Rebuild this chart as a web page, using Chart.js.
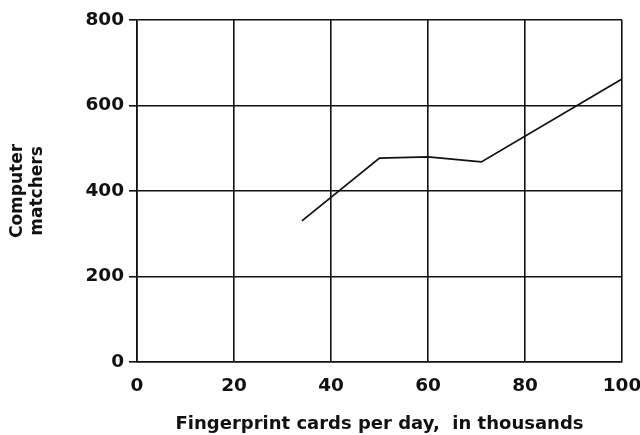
<!DOCTYPE html>
<html>
<head>
<meta charset="utf-8">
<script src="https://cdn.jsdelivr.net/npm/chart.js@4"></script>
<style>
  html, body { margin: 0; padding: 0; background: #fff; }
  #wrap { width: 640px; height: 435px; }
</style>
</head>
<body>
<div id="wrap"><canvas id="fpChart"></canvas></div>
<script>
// Computer matchers vs fingerprint card volume
const cardsPerDay = [34, 50, 60, 71, 100];
const matchers = [330, 477, 480, 468, 662];
const xTicks = [0, 20, 40, 60, 80, 100];
const yTicks = [0, 200, 400, 600, 800];

const ink = '#111';
const fontFam = "'DejaVu Sans', 'Liberation Sans', sans-serif";

document.addEventListener('DOMContentLoaded', () => {
  const ctx = document.getElementById('fpChart');
  new Chart(ctx.getContext('2d'), {
    type: 'line',
    data: {
      datasets: [{
        data: cardsPerDay.map((x, i) => ({ x: x, y: matchers[i] })),
        borderColor: ink,
        borderWidth: 1.8,
        pointRadius: 0,
        tension: 0,
        fill: false,
      }]
    },
    options: {
      responsive: true,
      maintainAspectRatio: false,
      animation: false,
      layout: { padding: { top: 20, right: 0, left: 0, bottom: 0 } },
      plugins: { legend: { display: false }, tooltip: { enabled: false } },
      scales: {
        x: {
          type: 'linear',
          min: 0, max: 100,
          afterBuildTicks: s => { s.ticks = xTicks.map(v => ({ value: v })); },
          afterFit: s => { s.height = 73; s.paddingRight = 18; },
          grid: { color: ink, lineWidth: 1.6, drawTicks: false },
          border: { color: ink, width: 1.6 },
          ticks: { color: ink, padding: 13, font: { family: fontFam, size: 18.5, weight: 'bold' } },
          title: {
            display: true,
            text: 'Fingerprint cards per day,  in thousands',
            color: ink,
            padding: { top: 10, bottom: 0 },
            font: { family: fontFam, size: 18, weight: 'bold' }
          }
        },
        y: {
          min: 0, max: 800,
          afterBuildTicks: s => { s.ticks = yTicks.map(v => ({ value: v })); },
          afterFit: s => { s.width = 137; },
          grid: { color: ink, lineWidth: 1.6, tickLength: 8 },
          border: { color: ink, width: 1.6 },
          ticks: { color: ink, padding: 5, font: { family: fontFam, size: 18.5, weight: 'bold' } },
          title: {
            display: true,
            text: ['Computer', 'matchers'],
            color: ink,
            padding: { top: 7, bottom: 0 },
            font: { family: fontFam, size: 17, weight: 'bold', lineHeight: 1.2 }
          }
        }
      }
    }
  });
});
</script>
</body>
</html>
